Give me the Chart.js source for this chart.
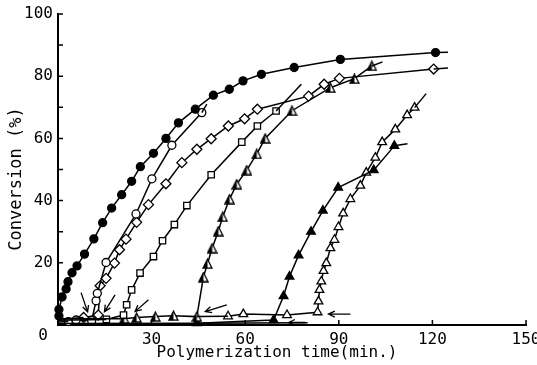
<!DOCTYPE html>
<html>
<head>
<meta charset="utf-8">
<script src="https://cdn.jsdelivr.net/npm/chart.js@4.4.1/dist/chart.umd.min.js"></script>
<style>
  html, body { margin: 0; padding: 0; background: #fff; }
  #wrap { width: 537px; height: 365px; }
</style>
</head>
<body>
<div id="wrap"><canvas id="myChart" width="537" height="365"></canvas></div>
<script>
// values, [time (min), conversion (%)]
var filledCircle = [[0.3,2.9],[0.3,5],[1.3,9],[2.6,11.6],[3.2,13.9],[4.5,16.8],[6.1,19],[8.5,22.8],[11.5,27.7],[14.3,32.9],[17.2,37.6],[20.4,41.9],[23.6,46.2],[26.4,50.9],[30.6,55.2],[34.6,60],[38.6,65],[44,69.4],[49.8,73.9],[54.9,75.8],[59.3,78.5],[65.2,80.6],[75.7,82.8],[90.5,85.4],[121,87.6]];
var openCircle = [[3.3,1.1],[5.8,1.6],[10.8,1.4],[12.2,7.8],[12.6,10.2],[15.4,20.1],[25,35.7],[30.1,47],[36.5,57.8],[46.1,68.3]];
var openDiamond = [[8.2,2.4],[12.9,3.2],[13.5,12.6],[15.4,15],[18.1,19.9],[19.7,24.2],[21.8,27.6],[25.2,33],[29,38.7],[34.6,45.4],[39.7,52.2],[44.5,56.5],[49.1,59.9],[54.6,64],[59.8,66.3],[63.9,69.4],[80.3,73.6],[85.3,77.4],[90.2,79.3],[120.4,82.3]];
var openSquare = [[15.5,1.8],[21,3.2],[22,6.5],[23.6,11.3],[26.3,16.7],[30.6,22],[33.5,27.1],[37.3,32.3],[41.3,38.4],[49.1,48.3],[58.9,58.8],[63.9,64],[69.9,68.8]];
var halfTriangle = [[21.2,2],[25.2,2.4],[31.2,2.7],[37,3],[44.5,2.7],[46.6,15.4],[47.9,19.7],[49.4,24.7],[51.4,30.2],[52.8,34.8],[55,40.5],[57.3,45.3],[60.5,49.8],[63.7,55],[66.4,60],[75,68.9],[87.3,76.3],[95,79.2],[100.6,83.3]];
var filledTriangle = [[44.5,0.6],[69.1,1.6],[72.3,9.3],[74.2,15.6],[77.1,22.4],[81.1,30],[84.9,36.8],[89.8,44.2],[101.2,49.8],[107.8,57.6]];
var openTriangle = [[54.5,2.8],[59.4,3.5],[73.4,3.2],[83.2,4.1],[83.5,7.6],[83.8,11.3],[84.4,14],[85.1,17.4],[86,19.9],[87.3,24.7],[88.6,27.4],[89.9,31.5],[91.4,35.9],[93.7,40.5],[96.9,44.8],[98.8,49],[101.7,53.8],[103.9,58.8],[108.1,62.9],[111.9,67.5],[114.3,69.9]];

// curve ends and induction lines without markers
var guideLines = [
  [[121,87.6],[125,87.7]],
  [[120.4,82.3],[125,82.6]],
  [[46.1,68.3],[47.7,71]],
  [[69.9,68.8],[78,77.4]],
  [[100.6,83.3],[104,84.6]],
  [[107.8,57.6],[112,58.3]],
  [[114.3,69.9],[118,74.4]],
  [[0,1],[3.3,1.1]],
  [[0,1.8],[8.2,2.4]],
  [[0,1.5],[15.5,1.8]],
  [[0,2],[21.2,2]],
  [[0,0.5],[44.5,0.6]],
  [[44.5,2.7],[54.5,2.8]],
  [[44.5,0.6],[80,0.7]]
];
// arrows: from [x, y] to [x, y]
var arrows = [[7.4,10.4,9.5,4.2],[18.3,9.7,14.9,4.3],[29,8.1,24.7,4.3],[54.1,6.5,47.2,4.3],[93.7,3.5,86.7,3.5],[79.2,0.8,73.9,0.8]];

var xTicks = [30, 60, 90, 120, 150];
var yTicks = [20, 40, 60, 80, 100];
var xTitle = "Polymerization time(min.)";
var yTitle = "Conversion (%)";

var FONT = "'DejaVu Sans Mono', monospace";

// triangle with left half black
function halfTri(size) {
  var c = document.createElement("canvas");
  c.width = size; c.height = size;
  var g = c.getContext("2d");
  var m = size / 2;
  g.beginPath(); g.moveTo(m, 1); g.lineTo(size - 1, size - 1); g.lineTo(1, size - 1); g.closePath();
  g.fillStyle = "#fff"; g.fill();
  g.beginPath(); g.moveTo(m, 1); g.lineTo(m, size - 1); g.lineTo(1, size - 1); g.closePath();
  g.fillStyle = "#000"; g.fill();
  g.beginPath(); g.moveTo(m, 1); g.lineTo(size - 1, size - 1); g.lineTo(1, size - 1); g.closePath();
  g.lineWidth = 1.3; g.strokeStyle = "#000"; g.stroke();
  return c;
}

function series(pts, style, radius, fill) {
  return {
    data: pts.map(function (p) { return { x: p[0], y: p[1] }; }),
    showLine: true,
    borderColor: "#000",
    borderWidth: 1.5,
    pointStyle: style,
    pointRadius: radius,
    pointBackgroundColor: fill,
    pointBorderColor: "#000",
    pointBorderWidth: 1.3,
    tension: 0,
    clip: 10
  };
}

var datasets = [];
guideLines.forEach(function (g) {
  datasets.push({
    data: g.map(function (p) { return { x: p[0], y: p[1] }; }),
    showLine: true, borderColor: "#000", borderWidth: 1.5, pointRadius: 0, clip: 10
  });
});
datasets.push(series(filledCircle, "circle", 4, "#000"));
datasets.push(series(openCircle, "circle", 4, "#fff"));
datasets.push(series(openDiamond, "rectRot", 5, "#fff"));
datasets.push(series(openSquare, "rect", 4.5, "#fff"));
datasets.push(series(halfTriangle, halfTri(11), 5, "#fff"));
datasets.push(series(filledTriangle, "triangle", 5, "#000"));
datasets.push(series(openTriangle, "triangle", 5, "#fff"));

var decor = {
  id: "decor",
  afterDraw: function (chart) {
    var ctx = chart.ctx, xs = chart.scales.x, ys = chart.scales.y;
    var area = chart.chartArea;
    ctx.save();
    ctx.strokeStyle = "#000";
    ctx.fillStyle = "#000";
    ctx.lineWidth = 1.3;
    arrows.forEach(function (a) {
      var x1 = xs.getPixelForValue(a[0]), y1 = ys.getPixelForValue(a[1]);
      var x2 = xs.getPixelForValue(a[2]), y2 = ys.getPixelForValue(a[3]);
      var ang = Math.atan2(y2 - y1, x2 - x1);
      ctx.beginPath();
      ctx.moveTo(x1, y1); ctx.lineTo(x2, y2);
      ctx.moveTo(x2 - 7 * Math.cos(ang - 0.45), y2 - 7 * Math.sin(ang - 0.45));
      ctx.lineTo(x2, y2);
      ctx.lineTo(x2 - 7 * Math.cos(ang + 0.45), y2 - 7 * Math.sin(ang + 0.45));
      ctx.stroke();
    });
    // inward tick marks
    ctx.lineWidth = 1.5;
    ctx.beginPath();
    for (var v = 10; v <= 100; v += 10) {
      var py = ys.getPixelForValue(v);
      ctx.moveTo(area.left, py); ctx.lineTo(area.left + 5, py);
    }
    xTicks.forEach(function (t) {
      var px = xs.getPixelForValue(t);
      ctx.moveTo(px, area.bottom); ctx.lineTo(px, area.bottom - 5);
    });
    ctx.stroke();
    // origin label and axis titles
    ctx.font = "16px " + FONT;
    ctx.textAlign = "center";
    ctx.textBaseline = "middle";
    ctx.fillText("0", area.left - 15, area.bottom + 11);
    ctx.font = "16px " + FONT;
    ctx.fillText(xTitle, 277, 353);
    ctx.translate(17, 179);
    ctx.rotate(-Math.PI / 2);
    ctx.font = "17px " + FONT;
    ctx.fillText(yTitle, 0, 0);
    ctx.restore();
  }
};

var chart = new Chart(document.getElementById("myChart").getContext("2d"), {
  type: "scatter",
  data: { datasets: datasets },
  options: {
    responsive: false,
    animation: false,
    devicePixelRatio: 1,
    layout: { padding: { top: 14, right: 11, left: 0, bottom: 0 } },
    plugins: { legend: { display: false }, tooltip: { enabled: false } },
    scales: {
      x: {
        type: "linear", min: 0, max: 150,
        afterBuildTicks: function (s) { s.ticks = [0].concat(xTicks).map(function (v) { return { value: v }; }); },
        ticks: {
          padding: 5, color: "#000", font: { family: FONT, size: 16 },
          maxRotation: 0,
          callback: function (v) { return xTicks.indexOf(v) >= 0 ? String(v) : ""; }
        },
        grid: { drawOnChartArea: false, drawTicks: false },
        border: { display: true, color: "#000", width: 2 },
        afterFit: function (s) { s.height = 40; s.paddingRight = 0; s.paddingLeft = 0; }
      },
      y: {
        type: "linear", min: 0, max: 100,
        afterBuildTicks: function (s) { s.ticks = [0].concat(yTicks).map(function (v) { return { value: v }; }); },
        ticks: {
          padding: 5, color: "#000", font: { family: FONT, size: 16 },
          callback: function (v) { return yTicks.indexOf(v) >= 0 ? String(v) : ""; }
        },
        grid: { drawOnChartArea: false, drawTicks: false },
        border: { display: true, color: "#000", width: 2 },
        afterFit: function (s) { s.width = 58; s.paddingTop = 0; s.paddingBottom = 0; }
      }
    }
  },
  plugins: [decor]
});
</script>
</body>
</html>
